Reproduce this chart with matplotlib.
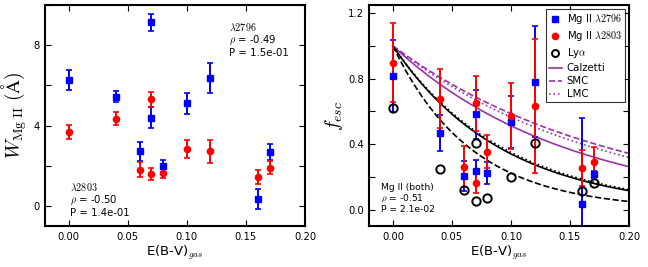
import numpy as np
import matplotlib
matplotlib.use("Agg")
import matplotlib.pyplot as plt
from matplotlib.lines import Line2D
from matplotlib.ticker import MultipleLocator

plt.rcParams['mathtext.fontset'] = 'cm'
plt.rcParams['font.family'] = ['DejaVu Sans']

# ---------------- data ----------------
ebv = [0.00, 0.04, 0.06, 0.07, 0.07, 0.08, 0.10, 0.12, 0.16, 0.17]

# Left panel: equivalent widths (Angstrom)
w2796 = [6.27, 5.43, 2.73, 9.15, 4.40, 2.00, 5.10, 6.35, 0.35, 2.68]
w2796_err = [0.50, 0.28, 0.47, 0.42, 0.50, 0.30, 0.52, 0.75, 0.50, 0.40]
w2803 = [3.67, 4.35, 1.80, 5.30, 1.57, 1.65, 2.85, 2.72, 1.45, 1.90]
w2803_err = [0.35, 0.34, 0.38, 0.37, 0.30, 0.27, 0.45, 0.58, 0.35, 0.33]

# Right panel: escape fractions
f2796 = [0.818, 0.469, 0.206, 0.583, 0.234, 0.224, 0.536, 0.781, 0.032, 0.216]
f2796_err = [0.22, 0.11, 0.09, 0.15, 0.07, 0.07, 0.16, 0.34, 0.53, 0.02]
f2803 = [0.898, 0.677, 0.261, 0.649, 0.163, 0.353, 0.571, 0.632, 0.257, 0.291]
f2803_err = [0.24, 0.18, 0.125, 0.17, 0.06, 0.10, 0.20, 0.41, 0.11, 0.09]
flya = [0.618, 0.251, 0.122, 0.410, 0.053, 0.073, 0.200, 0.410, 0.112, 0.163]

# Attenuation-law model curves: k(lambda) values
law_names = ['Calzetti', 'SMC', 'LMC']
law_styles = ['-', '--', ':']
k_mgii = [7.26, 5.80, 6.20]
k_lya = [11.7, 16.3, 11.4]

# annotations
stats_left_2796 = r'$\lambda2796$' + '\n' + r'$\rho$ = -0.49' + '\n' + 'P = 1.5e-01'
stats_left_2803 = r'$\lambda2803$' + '\n' + r'$\rho$ = -0.50' + '\n' + 'P = 1.4e-01'
stats_right = 'Mg II (both)' + '\n' + r'$\rho$ = -0.51' + '\n' + 'P = 2.1e-02'

purple = '#9a33aa'

fig = plt.figure(figsize=(6.48, 2.67), dpi=100)
ax1 = fig.add_axes([45/648, 41/267, 260/648, 221/267])
ax2 = fig.add_axes([369.3/648, 41/267, 259.7/648, 221/267])

ebkw = dict(capsize=2, elinewidth=1.4, capthick=1.2, ms=4.5, ls='none')

# ---- left panel ----
ax1.errorbar(ebv, w2796, yerr=w2796_err, fmt='s', color='b', mec='b', **ebkw)
ax1.errorbar(ebv, w2803, yerr=w2803_err, fmt='o', color='r', mec='r', **ebkw)
ax1.set_xlim(-0.02, 0.20)
ax1.set_ylim(-1, 10)
ax1.yaxis.set_major_locator(MultipleLocator(4))
ax1.yaxis.set_minor_locator(MultipleLocator(2))
ax1.xaxis.set_major_locator(MultipleLocator(0.05))
ax1.set_xlabel(r'E(B-V)$_{gas}$', fontsize=9.5, labelpad=2)
ax1.set_ylabel(r'$W_{\rm Mg\ II}\ (\mathrm{\AA})$', fontsize=14, labelpad=3)
ax1.text(0.709, 0.925, stats_left_2796, transform=ax1.transAxes, fontsize=7.3,
         va='top', ha='left', linespacing=1.1)
ax1.text(0.096, 0.2, stats_left_2803, transform=ax1.transAxes, fontsize=7.3,
         va='top', ha='left', linespacing=1.1)

# ---- right panel ----
E = np.linspace(0, 0.2, 200)
for name, ls, k in zip(law_names, law_styles, k_mgii):
    ax2.plot(E, 10**(-0.4*k*E), color=purple, ls=ls, lw=1.2)
for name, ls, k in zip(law_names, law_styles, k_lya):
    ax2.plot(E, 10**(-0.4*k*E), color='k', ls=ls, lw=1.2)

ax2.errorbar(ebv, f2796, yerr=f2796_err, fmt='s', color='b', mec='b', **ebkw)
ax2.errorbar(ebv, f2803, yerr=f2803_err, fmt='o', color='r', mec='r', **ebkw)
ax2.plot(ebv, flya, 'o', mfc='none', mec='k', mew=1.4, ms=6, ls='none')

ax2.set_xlim(-0.02, 0.20)
ax2.set_ylim(-0.1, 1.25)
ax2.yaxis.set_major_locator(MultipleLocator(0.4))
ax2.yaxis.set_minor_locator(MultipleLocator(0.2))
ax2.xaxis.set_major_locator(MultipleLocator(0.05))
ax2.set_xlabel(r'E(B-V)$_{gas}$', fontsize=9.5, labelpad=2)
ax2.set_ylabel(r'$f_{esc}$', fontsize=14, labelpad=2)
ax2.text(0.045, 0.195, stats_right, transform=ax2.transAxes, fontsize=6.6,
         va='top', ha='left', linespacing=1.05)

handles = [
    Line2D([], [], marker='s', color='b', mec='b', ls='none', ms=4.5),
    Line2D([], [], marker='o', color='r', mec='r', ls='none', ms=4.5),
    Line2D([], [], marker='o', mfc='none', mec='k', mew=1.4, ls='none', ms=5),
]
labels = [r'Mg II $\lambda2796$', r'Mg II $\lambda2803$', r'Ly$\alpha$']
for name, ls in zip(law_names, law_styles):
    handles.append(Line2D([], [], color=purple, ls=ls, lw=1.2))
    labels.append(name)
leg = ax2.legend(handles, labels, loc='upper right', fontsize=7.3, numpoints=1,
                 handlelength=1.2, handletextpad=0.5, borderpad=0.3,
                 labelspacing=0.3, borderaxespad=0.4, fancybox=False)
leg.get_frame().set_edgecolor('k')
leg.get_frame().set_linewidth(0.8)

for ax in (ax1, ax2):
    for sp in ax.spines.values():
        sp.set_linewidth(1.5)
    ax.tick_params(which='both', direction='in', top=True, right=True,
                   length=4, width=0.8, labelsize=7.2, pad=4)

fig.savefig('out.png', dpi=100, facecolor='white')
